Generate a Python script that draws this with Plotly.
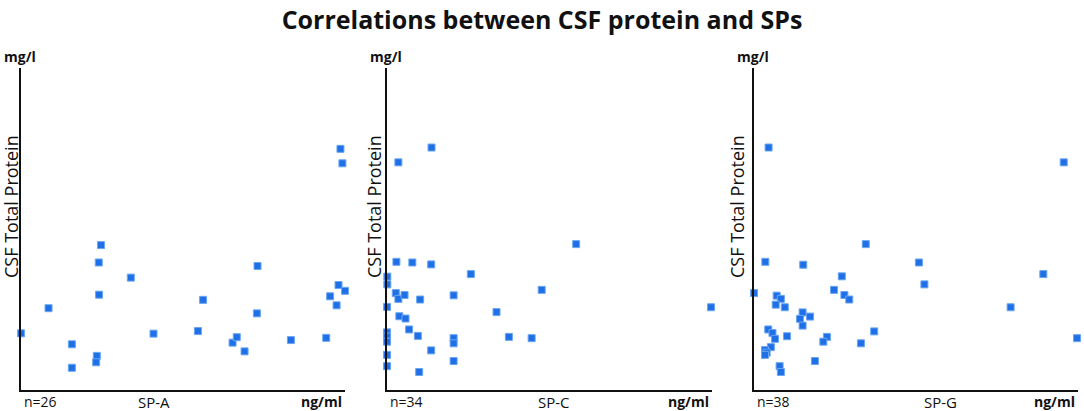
import plotly.graph_objects as go

# valores (unidades relativas, 0-100 en cada eje)
spa_x = [0.0, 8.5, 15.7, 15.7, 24.7, 24.0, 24.1, 23.4, 23.2, 33.9, 40.9, 54.6, 56.2,
         65.3, 66.6, 69.0, 73.0, 72.8, 83.3, 94.2, 98.6, 99.2, 98.0, 95.4, 97.4, 100.0]
spa_y = [17.6, 25.4, 14.2, 6.9, 45.0, 39.6, 29.6, 10.6, 8.6, 34.9, 17.5, 18.3, 28.0,
         14.7, 16.4, 12.0, 38.5, 23.8, 15.5, 16.2, 74.9, 70.4, 32.6, 29.1, 26.3, 30.8]

spc_x = [13.7, 3.5, 58.2, 2.9, 7.8, 13.6, 25.8, 0.1, 0.1, 2.7, 3.5, 5.4, 10.2, 20.5,
         47.6, 0.0, 33.7, 99.7, 3.8, 5.7, 6.8, 9.5, 0.0, 0.0, 0.0, 20.5, 20.5, 37.5,
         44.5, 13.6, 0.0, 20.5, 0.0, 9.9]
spc_y = [75.3, 70.7, 45.3, 39.8, 39.6, 39.0, 36.0, 35.2, 32.8, 30.1, 28.3, 29.5, 28.1,
         29.4, 31.1, 25.8, 24.2, 25.7, 22.9, 22.2, 18.8, 16.8, 17.9, 16.6, 15.0, 16.1,
         14.5, 16.5, 16.1, 12.3, 10.9, 9.0, 7.4, 5.6]

spg_x = [4.5, 95.6, 34.5, 3.5, 15.2, 50.9, 27.1, 89.3, 52.6, 0.0, 24.7, 7.0, 8.3, 27.9,
         29.4, 6.7, 9.5, 79.2, 15.0, 14.2, 17.3, 15.0, 4.4, 5.7, 6.5, 10.2, 37.1, 22.5,
         21.4, 33.0, 99.7, 5.2, 3.4, 3.9, 3.4, 18.8, 7.9, 8.3]
spg_y = [75.3, 70.7, 45.3, 39.8, 38.9, 39.6, 35.3, 36.0, 32.8, 30.1, 31.1, 29.3, 28.3,
         29.5, 28.1, 26.5, 25.7, 25.7, 24.1, 22.1, 22.8, 20.0, 18.8, 17.7, 15.9, 16.7,
         18.2, 16.5, 15.0, 14.5, 16.1, 13.3, 12.4, 11.6, 10.9, 9.0, 7.4, 5.6]

paneles = [
    ('SP-A', spa_x, spa_y, 'n=26'),
    ('SP-C', spc_x, spc_y, 'n=34'),
    ('SP-G', spg_x, spg_y, 'n=38'),
]

W, H = 1084, 411
fuente = 'Open Sans'


def px(x):
    return x / W


def py(y):
    return 1 - y / H


# límites de cada panel en pixeles: (eje y, fin eje x)
limites = [(21, 345), (387, 712), (754, 1078)]
ytop, ybot = 68, 390
# posiciones de textos por panel
pos_titulo_y = [11, 374, 737]
pos_sp = [154, 554, 940]

fig = go.Figure()
annotations = []

for i, (nombre, xs, ys, n_txt) in enumerate(paneles):
    sufijo = '' if i == 0 else str(i + 1)
    x0, x1 = limites[i]
    fig.add_trace(go.Scatter(
        x=xs, y=ys,
        mode='markers',
        marker=dict(symbol='square', size=7, color='#1f6fe6',
                    line=dict(color='#6aa6f2', width=1)),
        cliponaxis=False,
        xaxis='x' + sufijo, yaxis='y' + sufijo,
        showlegend=False,
        name=nombre,
    ))
    eje = dict(showgrid=False, zeroline=False, showticklabels=False, ticks='',
               showline=True, linecolor='#111111', linewidth=1.6)
    fig.update_layout({
        'xaxis' + sufijo: dict(eje, domain=[px(x0), px(x1)], range=[0, 100],
                               anchor='y' + sufijo),
        'yaxis' + sufijo: dict(eje, domain=[py(ybot), py(ytop)], range=[0, 100],
                               anchor='x' + sufijo),
    })

    annotations += [
        dict(text='<b>mg/l</b>', x=px(x0 - 19), y=py(57), xanchor='left',
             font=dict(size=14)),
        dict(text='CSF Total Protein', x=px(pos_titulo_y[i]), y=py(207),
             textangle=-90, font=dict(size=18)),
        dict(text=n_txt, x=px(x0 + 1), y=py(401), xanchor='left',
             font=dict(size=14)),
        dict(text=nombre, x=px(pos_sp[i]), y=py(402), font=dict(size=15)),
        dict(text='<b>ng/ml</b>', x=px(x1 - 1), y=py(401), xanchor='right',
             font=dict(size=14)),
    ]

for a in annotations:
    a.update(xref='paper', yref='paper', showarrow=False,
             yanchor='middle')
    a.setdefault('xanchor', 'center')

fig.update_layout(
    width=W, height=H,
    margin=dict(l=0, r=0, t=0, b=0),
    paper_bgcolor='white', plot_bgcolor='white',
    font=dict(family=fuente, color='#111111'),
    title=dict(text='<b>Correlations between CSF protein and SPs</b>',
               x=0.5, y=py(20), xanchor='center', yanchor='middle',
               font=dict(family=fuente, size=25, color='#111111')),
    annotations=annotations,
)

# quitar el margen del body para que la figura quede en la esquina
fig.write_html('out.html',
               config={'displayModeBar': False},
               post_script="document.body.style.margin='0';"
                           "document.body.style.overflow='hidden';")
